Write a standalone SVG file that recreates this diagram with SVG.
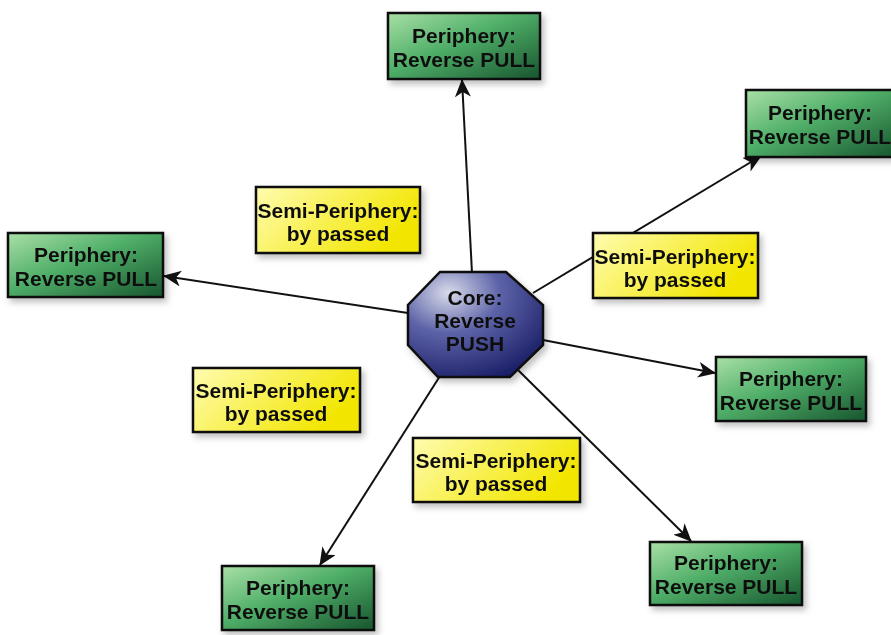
<svg xmlns="http://www.w3.org/2000/svg" width="891" height="635" viewBox="0 0 891 635">
<defs>
<linearGradient id="gGreen" x1="0" y1="0" x2="1" y2="1">
<stop offset="0" stop-color="#a9e0a6"/>
<stop offset="0.45" stop-color="#4fae68"/>
<stop offset="1" stop-color="#17552e"/>
</linearGradient>
<linearGradient id="gYellow" x1="0" y1="0" x2="1" y2="0.4">
<stop offset="0" stop-color="#fffcb0"/>
<stop offset="1" stop-color="#f2e600"/>
</linearGradient>
<radialGradient id="gBlue" cx="0.3" cy="0.2" r="0.95">
<stop offset="0" stop-color="#d8dbea"/>
<stop offset="0.4" stop-color="#5d63a8"/>
<stop offset="1" stop-color="#12165e"/>
</radialGradient>
<marker id="arr" viewBox="0 0 18 16" refX="17" refY="8" markerWidth="18" markerHeight="16" markerUnits="userSpaceOnUse" orient="auto">
<path d="M0,0 L18,8 L0,16 L5,8 Z" fill="#111"/>
</marker>
<filter id="sh" x="-10%" y="-10%" width="130%" height="140%">
<feDropShadow dx="3" dy="4" stdDeviation="3" flood-color="#000" flood-opacity="0.25"/>
</filter>
</defs>
<style>
.g{fill:url(#gGreen);stroke:#111;stroke-width:2.5}
.y{fill:url(#gYellow);stroke:#111;stroke-width:2.5}
.t{font-family:"Liberation Sans",Arial,sans-serif;font-weight:bold;font-size:21px;fill:#111;text-anchor:middle}
.c{stroke:#111;stroke-width:2;fill:none;marker-end:url(#arr)}
</style>
<rect width="891" height="635" fill="#ffffff"/>
<g id="connectors">
<line class="c" x1="472" y1="273" x2="462" y2="80"/>
<line class="c" x1="533" y1="293" x2="761" y2="156"/>
<line class="c" x1="408" y1="313" x2="164" y2="276"/>
<line class="c" x1="543" y1="340" x2="715" y2="373"/>
<line class="c" x1="518" y1="370" x2="691" y2="541"/>
<line class="c" x1="440" y1="376" x2="320" y2="565"/>
</g>
<g id="core" filter="url(#sh)">
<polygon points="440,272 506,272 543,305 543,345 510,377 438,377 408,345 408,305" fill="url(#gBlue)" stroke="#111" stroke-width="2.5"/>
<text class="t" x="475" y="305">Core:</text>
<text class="t" x="475" y="328">Reverse</text>
<text class="t" x="475" y="351">PUSH</text>
</g>
<g id="p_top" filter="url(#sh)">
<rect class="g" x="388" y="13" width="152" height="66"/>
<text class="t" x="464" y="43">Periphery:</text>
<text class="t" x="464" y="67">Reverse PULL</text>
</g>
<g id="p_left" filter="url(#sh)">
<rect class="g" x="8" y="233" width="155" height="64"/>
<text class="t" x="86" y="262">Periphery:</text>
<text class="t" x="86" y="286">Reverse PULL</text>
</g>
<g id="p_topright" filter="url(#sh)">
<rect class="g" x="746" y="90" width="150" height="67"/>
<text class="t" x="820" y="120">Periphery:</text>
<text class="t" x="820" y="144">Reverse PULL</text>
</g>
<g id="p_right" filter="url(#sh)">
<rect class="g" x="716" y="357" width="150" height="64"/>
<text class="t" x="791" y="386">Periphery:</text>
<text class="t" x="791" y="410">Reverse PULL</text>
</g>
<g id="p_bottomright" filter="url(#sh)">
<rect class="g" x="650" y="542" width="152" height="63"/>
<text class="t" x="726" y="570">Periphery:</text>
<text class="t" x="726" y="594">Reverse PULL</text>
</g>
<g id="p_bottomleft" filter="url(#sh)">
<rect class="g" x="222" y="566" width="152" height="64"/>
<text class="t" x="298" y="595">Periphery:</text>
<text class="t" x="298" y="619">Reverse PULL</text>
</g>
<g id="s_topleft" filter="url(#sh)">
<rect class="y" x="256" y="187" width="164" height="66"/>
<text class="t" x="338" y="218">Semi-Periphery:</text>
<text class="t" x="338" y="241">by passed</text>
</g>
<g id="s_right" filter="url(#sh)">
<rect class="y" x="593" y="233" width="165" height="65"/>
<text class="t" x="675" y="264">Semi-Periphery:</text>
<text class="t" x="675" y="287">by passed</text>
</g>
<g id="s_left" filter="url(#sh)">
<rect class="y" x="193" y="368" width="167" height="64"/>
<text class="t" x="276" y="398">Semi-Periphery:</text>
<text class="t" x="276" y="421">by passed</text>
</g>
<g id="s_bottom" filter="url(#sh)">
<rect class="y" x="413" y="438" width="167" height="64"/>
<text class="t" x="496" y="468">Semi-Periphery:</text>
<text class="t" x="496" y="491">by passed</text>
</g>
</svg>
